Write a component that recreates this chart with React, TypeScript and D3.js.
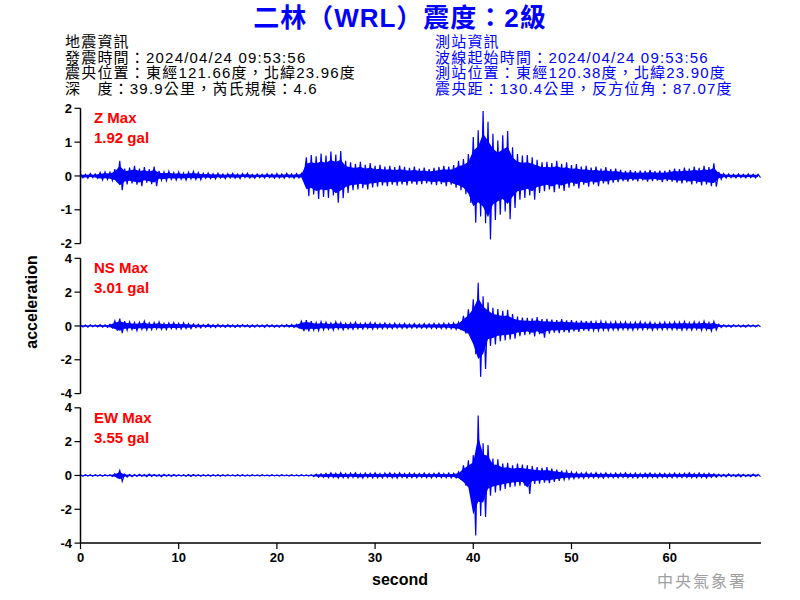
import React from 'react';
import * as d3 from 'd3';

// ---------- data (envelope of each trace, sampled every 0.5 s; lo = magnitude of negative swing) ----------
const SAMPLE_STEP = 0.5;
const X_MAX = 69.3;
const X_TICKS = [0, 10, 20, 30, 40, 50, 60];

const zHi = [
  0.06, 0.05, 0.07, 0.06, 0.10, 0.12, 0.11, 0.20, 0.45, 0.22,
  0.25, 0.30, 0.22, 0.26, 0.20, 0.28, 0.15, 0.12, 0.14, 0.10,
  0.12, 0.09, 0.11, 0.13, 0.10, 0.08, 0.09, 0.07, 0.08, 0.06,
  0.07, 0.08, 0.06, 0.07, 0.08, 0.05, 0.06, 0.05, 0.07, 0.06,
  0.07, 0.06, 0.08, 0.06, 0.07, 0.08, 0.55, 0.62, 0.58, 0.66,
  0.60, 0.72, 0.63, 0.74, 0.45, 0.40, 0.36, 0.42, 0.33, 0.38,
  0.30, 0.33, 0.28, 0.30, 0.26, 0.31, 0.27, 0.24, 0.28, 0.22,
  0.25, 0.20, 0.24, 0.26, 0.30, 0.28, 0.32, 0.45, 0.50, 0.65,
  1.15, 1.35, 1.92, 1.60, 1.25, 1.05, 1.20, 1.33, 0.85, 0.65,
  0.60, 0.62, 0.55, 0.48, 0.40, 0.42, 0.38, 0.45, 0.36, 0.40,
  0.32, 0.35, 0.28, 0.30, 0.25, 0.28, 0.22, 0.26, 0.20, 0.22,
  0.18, 0.15, 0.17, 0.14, 0.16, 0.15, 0.18, 0.14, 0.16, 0.15,
  0.18, 0.22, 0.20, 0.25, 0.22, 0.28, 0.24, 0.30, 0.26, 0.37,
  0.12, 0.07, 0.06, 0.05, 0.06, 0.05, 0.06, 0.05, 0.05,
];
const zLo = [
  0.06, 0.07, 0.05, 0.07, 0.12, 0.10, 0.13, 0.18, 0.42, 0.25,
  0.22, 0.26, 0.30, 0.20, 0.24, 0.30, 0.13, 0.14, 0.10, 0.12,
  0.10, 0.12, 0.09, 0.10, 0.11, 0.07, 0.08, 0.09, 0.06, 0.08,
  0.06, 0.07, 0.08, 0.05, 0.06, 0.07, 0.05, 0.06, 0.05, 0.07,
  0.06, 0.07, 0.05, 0.07, 0.06, 0.07, 0.60, 0.55, 0.68, 0.62,
  0.65, 0.58, 0.79, 0.66, 0.50, 0.42, 0.40, 0.36, 0.40, 0.34,
  0.32, 0.28, 0.30, 0.26, 0.29, 0.25, 0.28, 0.23, 0.26, 0.24,
  0.22, 0.25, 0.27, 0.24, 0.30, 0.26, 0.35, 0.42, 0.54, 0.80,
  1.38, 1.20, 1.40, 1.88, 1.30, 1.15, 1.05, 1.28, 0.95, 0.70,
  0.65, 0.58, 0.70, 0.50, 0.45, 0.40, 0.48, 0.38, 0.44, 0.35,
  0.30, 0.37, 0.26, 0.32, 0.25, 0.30, 0.22, 0.25, 0.20, 0.18,
  0.15, 0.17, 0.14, 0.16, 0.13, 0.17, 0.15, 0.14, 0.18, 0.15,
  0.17, 0.20, 0.22, 0.19, 0.25, 0.22, 0.28, 0.25, 0.30, 0.32,
  0.10, 0.06, 0.05, 0.06, 0.05, 0.06, 0.05, 0.06, 0.05,
];

const nsHi = [
  0.06, 0.05, 0.07, 0.06, 0.08, 0.06, 0.10, 0.30, 0.43, 0.28,
  0.25, 0.20, 0.22, 0.28, 0.18, 0.20, 0.24, 0.15, 0.18, 0.20,
  0.16, 0.18, 0.14, 0.12, 0.10, 0.09, 0.10, 0.08, 0.09, 0.07,
  0.08, 0.07, 0.06, 0.08, 0.07, 0.06, 0.07, 0.06, 0.08, 0.07,
  0.06, 0.07, 0.08, 0.09, 0.10, 0.28, 0.35, 0.28, 0.20, 0.25,
  0.22, 0.18, 0.25, 0.20, 0.16, 0.18, 0.22, 0.15, 0.17, 0.20,
  0.18, 0.15, 0.17, 0.14, 0.16, 0.13, 0.15, 0.12, 0.14, 0.12,
  0.14, 0.13, 0.15, 0.14, 0.16, 0.15, 0.18, 0.22, 0.60, 0.98,
  1.57, 2.55, 1.76, 1.40, 1.08, 1.00, 0.90, 0.95, 0.70, 0.55,
  0.50, 0.48, 0.45, 0.52, 0.40, 0.42, 0.38, 0.35, 0.40, 0.33,
  0.35, 0.30, 0.32, 0.28, 0.30, 0.25, 0.28, 0.24, 0.22, 0.25,
  0.22, 0.24, 0.20, 0.22, 0.25, 0.20, 0.22, 0.18, 0.20, 0.22,
  0.20, 0.24, 0.22, 0.26, 0.20, 0.25, 0.22, 0.28, 0.20, 0.26,
  0.10, 0.07, 0.06, 0.07, 0.05, 0.06, 0.07, 0.05, 0.06,
];
const nsLo = [
  0.06, 0.07, 0.05, 0.06, 0.07, 0.08, 0.12, 0.28, 0.43, 0.25,
  0.22, 0.28, 0.20, 0.24, 0.22, 0.18, 0.20, 0.22, 0.16, 0.18,
  0.18, 0.15, 0.16, 0.10, 0.12, 0.08, 0.09, 0.10, 0.07, 0.08,
  0.07, 0.08, 0.07, 0.06, 0.08, 0.07, 0.06, 0.08, 0.06, 0.07,
  0.07, 0.06, 0.07, 0.09, 0.12, 0.30, 0.32, 0.25, 0.28, 0.22,
  0.20, 0.24, 0.18, 0.22, 0.18, 0.20, 0.16, 0.18, 0.15, 0.18,
  0.16, 0.17, 0.14, 0.16, 0.13, 0.15, 0.14, 0.13, 0.12, 0.14,
  0.13, 0.15, 0.14, 0.16, 0.15, 0.17, 0.20, 0.25, 0.45, 0.70,
  1.67, 3.01, 2.55, 1.18, 1.10, 0.90, 0.85, 0.80, 0.75, 0.60,
  0.55, 0.50, 0.62, 0.48, 0.70, 0.45, 0.40, 0.42, 0.36, 0.40,
  0.32, 0.35, 0.28, 0.30, 0.26, 0.28, 0.24, 0.26, 0.22, 0.24,
  0.20, 0.22, 0.24, 0.20, 0.22, 0.18, 0.24, 0.20, 0.22, 0.19,
  0.22, 0.20, 0.25, 0.22, 0.24, 0.20, 0.26, 0.22, 0.30, 0.24,
  0.10, 0.06, 0.07, 0.05, 0.06, 0.07, 0.05, 0.06, 0.05,
];

const ewHi = [
  0.04, 0.05, 0.04, 0.05, 0.04, 0.05, 0.05, 0.10, 0.30, 0.08,
  0.06, 0.05, 0.07, 0.05, 0.08, 0.06, 0.05, 0.07, 0.05, 0.06,
  0.05, 0.04, 0.05, 0.06, 0.04, 0.05, 0.04, 0.05, 0.04, 0.05,
  0.04, 0.03, 0.04, 0.05, 0.03, 0.04, 0.03, 0.04, 0.03, 0.04,
  0.03, 0.04, 0.03, 0.04, 0.03, 0.04, 0.03, 0.05, 0.08, 0.10,
  0.12, 0.15, 0.13, 0.16, 0.12, 0.14, 0.15, 0.12, 0.14, 0.13,
  0.15, 0.12, 0.14, 0.16, 0.13, 0.15, 0.12, 0.14, 0.13, 0.12,
  0.14, 0.12, 0.13, 0.15, 0.12, 0.14, 0.13, 0.20, 0.60, 0.90,
  1.20, 3.55, 1.90, 1.80, 1.00, 0.95, 0.70, 0.75, 0.60, 0.70,
  0.65, 0.60, 0.55, 0.50, 0.45, 0.50, 0.40, 0.35, 0.28, 0.25,
  0.20, 0.18, 0.15, 0.17, 0.14, 0.16, 0.13, 0.15, 0.12, 0.14,
  0.13, 0.15, 0.12, 0.14, 0.12, 0.13, 0.15, 0.12, 0.13, 0.12,
  0.12, 0.14, 0.12, 0.13, 0.15, 0.12, 0.14, 0.12, 0.13, 0.10,
  0.08, 0.07, 0.09, 0.06, 0.08, 0.07, 0.06, 0.08, 0.07,
];
const ewLo = [
  0.05, 0.04, 0.05, 0.04, 0.05, 0.04, 0.06, 0.12, 0.34, 0.10,
  0.07, 0.06, 0.05, 0.07, 0.06, 0.05, 0.07, 0.05, 0.06, 0.05,
  0.04, 0.05, 0.06, 0.04, 0.05, 0.04, 0.05, 0.04, 0.05, 0.04,
  0.03, 0.04, 0.03, 0.04, 0.04, 0.03, 0.04, 0.03, 0.04, 0.03,
  0.04, 0.03, 0.04, 0.03, 0.04, 0.03, 0.04, 0.06, 0.10, 0.12,
  0.14, 0.12, 0.16, 0.13, 0.15, 0.12, 0.14, 0.16, 0.12, 0.15,
  0.13, 0.15, 0.12, 0.14, 0.16, 0.12, 0.15, 0.13, 0.14, 0.12,
  0.13, 0.15, 0.12, 0.14, 0.13, 0.15, 0.14, 0.25, 0.60, 1.10,
  3.55, 2.40, 2.45, 1.20, 1.00, 0.90, 0.80, 0.70, 0.65, 0.60,
  0.60, 1.10, 0.50, 0.48, 0.42, 0.45, 0.38, 0.32, 0.26, 0.22,
  0.18, 0.16, 0.17, 0.14, 0.15, 0.13, 0.16, 0.12, 0.14, 0.13,
  0.12, 0.14, 0.13, 0.15, 0.12, 0.13, 0.12, 0.14, 0.12, 0.13,
  0.14, 0.12, 0.13, 0.12, 0.14, 0.13, 0.12, 0.15, 0.12, 0.10,
  0.07, 0.08, 0.06, 0.07, 0.08, 0.06, 0.07, 0.06, 0.07,
];

const componentNames = ['Z', 'NS', 'EW'];
const componentMax = ['1.92', '3.01', '3.55'];
const componentLimits = [2, 4, 4];
const componentTicks = [[2, 1, 0, -1, -2], [4, 2, 0, -2, -4], [4, 2, 0, -2, -4]];
const componentHi = [zHi, nsHi, ewHi];
const componentLo = [zLo, nsLo, ewLo];

const titleText = '二林（WRL）震度：2級';
const quakeInfo = [
  '地震資訊',
  '發震時間：2024/04/24 09:53:56',
  '震央位置：東經121.66度，北緯23.96度',
  '深　度：39.9公里，芮氏規模：4.6',
];
const stationInfo = [
  '測站資訊',
  '波線起始時間：2024/04/24 09:53:56',
  '測站位置：東經120.38度，北緯23.90度',
  '震央距：130.4公里，反方位角：87.07度',
];

// ---------- layout ----------
const W = 800;
const H = 600;
const LEFT = 80.5;
const RIGHT = 761;
const PANEL_TOPS = [108.3, 258.3, 407.8];
const PANEL_H = 135.3;
const CORE_FRACTION = 0.65; // the densely-filled core of the trace relative to its peak envelope
const FONT = "'Liberation Sans', Arial, 'Noto Sans CJK TC', sans-serif";
const CJK = "'Liberation Sans', Arial, 'Noto Sans CJK TC', sans-serif";
const BLUE = '#0000ff';

export default function App() {
  const x = d3.scaleLinear().domain([0, X_MAX]).range([LEFT, RIGHT]);

  const panels = componentNames.map((name, k) => {
    const top = PANEL_TOPS[k];
    const lim = componentLimits[k];
    const y = d3.scaleLinear().domain([-lim, lim]).range([top + PANEL_H, top]);
    const hi = componentHi[k];
    const lo = componentLo[k];
    const idx = hi.map((_, i) => i);
    const pts: [number, number][] = [];
    hi.forEach((v, i) => {
      const t = i * SAMPLE_STEP;
      pts.push([t, v]);
      pts.push([Math.min(t + SAMPLE_STEP / 2, X_MAX), -lo[i]]);
    });
    const line = d3
      .line<[number, number]>()
      .x((d) => x(d[0]))
      .y((d) => y(d[1]));
    const area = d3
      .area<number>()
      .x((i) => x(i * SAMPLE_STEP))
      .y0((i) => y(-lo[i] * CORE_FRACTION))
      .y1((i) => y(hi[i] * CORE_FRACTION));
    return (
      <g key={name}>
        <path d={area(idx) || ''} fill={BLUE} stroke="none" />
        <path d={line(pts) || ''} fill="none" stroke={BLUE} strokeWidth={1.2} strokeLinejoin="miter" />
        <line x1={LEFT} x2={LEFT} y1={y(lim)} y2={y(-lim)} stroke="#000" strokeWidth={1.5} />
        {componentTicks[k].map((t) => (
          <g key={t}>
            <line x1={LEFT - 6} x2={LEFT} y1={y(t)} y2={y(t)} stroke="#000" strokeWidth={1.2} />
            <text
              x={LEFT - 8.5}
              y={y(t)}
              dy="0.36em"
              textAnchor="end"
              fontFamily={FONT}
              fontWeight="bold"
              fontSize={13}
            >
              {t}
            </text>
          </g>
        ))}
        <text x={94} y={top + 15} fontFamily={FONT} fontWeight="bold" fontSize={15} fill="#ff0000">
          {name} Max
        </text>
        <text x={94} y={top + 35} fontFamily={FONT} fontWeight="bold" fontSize={15} fill="#ff0000">
          {componentMax[k]} gal
        </text>
      </g>
    );
  });

  const axisY = PANEL_TOPS[2] + PANEL_H;

  return (
    <svg
      width={W}
      height={H}
      viewBox={`0 0 ${W} ${H}`}
      style={{ position: 'absolute', left: 0, top: 0, background: '#fff' }}
    >
      <rect x={0} y={0} width={W} height={H} fill="#fff" />
      <text
        x={400}
        y={27}
        textAnchor="middle"
        fontFamily={CJK}
        fontWeight="bold"
        fontSize={26}
        letterSpacing={1}
        fill={BLUE}
      >
        {titleText}
      </text>
      {quakeInfo.map((s, i) => (
        <text key={s} x={65} y={47 + i * 15.5} fontFamily={CJK} fontSize={15} letterSpacing={1.2} fill="#000">
          {s}
        </text>
      ))}
      {stationInfo.map((s, i) => (
        <text key={s} x={435} y={47 + i * 15.5} fontFamily={CJK} fontSize={15} letterSpacing={1.2} fill={BLUE}>
          {s}
        </text>
      ))}
      {panels}
      <line x1={LEFT} x2={RIGHT} y1={axisY} y2={axisY} stroke="#000" strokeWidth={1.5} />
      {X_TICKS.map((t) => (
        <g key={t}>
          <line x1={x(t)} x2={x(t)} y1={axisY} y2={axisY + 6} stroke="#000" strokeWidth={1.2} />
          <text
            x={x(t)}
            y={axisY + 19}
            textAnchor="middle"
            fontFamily={FONT}
            fontWeight="bold"
            fontSize={13}
          >
            {t}
          </text>
        </g>
      ))}
      <text x={400} y={585} textAnchor="middle" fontFamily={FONT} fontWeight="bold" fontSize={16}>
        second
      </text>
      <text
        transform="translate(37,302) rotate(-90)"
        textAnchor="middle"
        fontFamily={FONT}
        fontWeight="bold"
        fontSize={16}
      >
        acceleration
      </text>
      <text x={657} y={587} fontFamily={CJK} fontSize={16} fill="#a0a0a0" letterSpacing={2}>
        中央氣象署
      </text>
    </svg>
  );
}
